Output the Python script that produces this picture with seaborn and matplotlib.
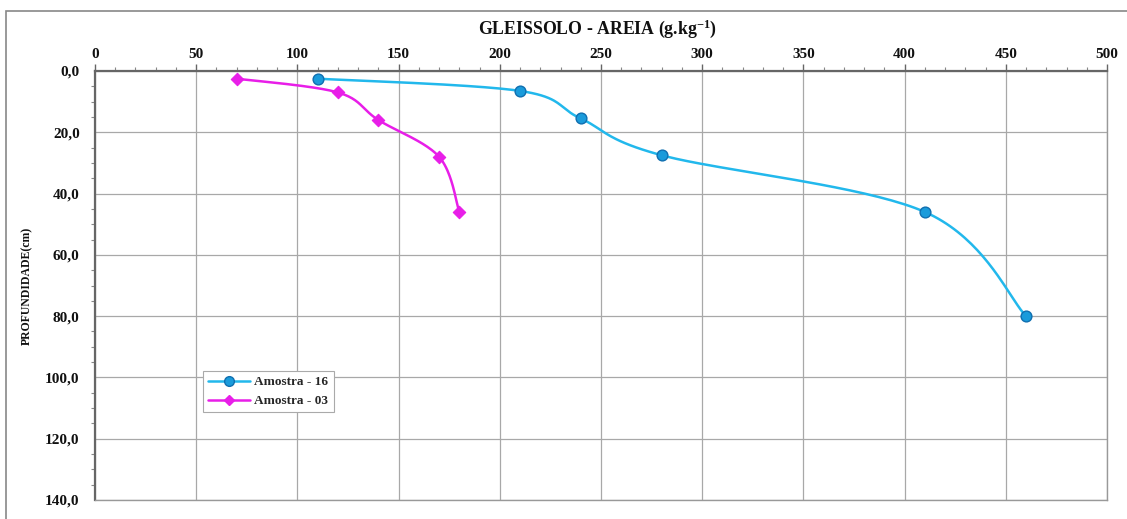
import numpy as np
import pandas as pd
import seaborn as sns
import matplotlib.pyplot as plt
from matplotlib.lines import Line2D
from matplotlib.patches import Rectangle
from matplotlib.ticker import MultipleLocator, FuncFormatter

# Sand content (g/kg) by sampling depth (cm)
depth_16 = [2.5, 6.5, 15.5, 27.5, 46.0, 80.0]
areia_16 = [110, 210, 240, 280, 410, 460]
depth_03 = [2.5, 7.0, 16.0, 28.0, 46.0]
areia_03 = [70, 120, 140, 170, 180]
series_names = ["Amostra - 16", "Amostra - 03"]

x_ticks = list(range(0, 501, 50))
y_ticks = list(range(0, 141, 20))

sns.set_theme(style="white")
plt.rcParams["font.family"] = ["Liberation Serif", "DejaVu Serif"]
plt.rcParams["mathtext.fontset"] = "custom"
plt.rcParams["mathtext.rm"] = "Liberation Serif:bold"
plt.rcParams["mathtext.it"] = "Liberation Serif:bold"
plt.rcParams["mathtext.bf"] = "Liberation Serif:bold"

CYAN = "#22B8EC"
CYAN_MK = "#1A9BDB"
CYAN_EDGE = "#0F6FB0"
MAGENTA = "#E81EE8"


def smooth(xs, ys, n=40):
    """Piecewise cubic Bezier through the points (Catmull-Rom style smoothing)."""
    p = np.column_stack([xs, ys]).astype(float)
    pad = np.vstack([p[0], p, p[-1]])
    t = np.linspace(0, 1, n)[:, None]
    out = []
    for i in range(len(p) - 1):
        p0, p1, p2, p3 = pad[i:i + 4]
        c1 = p1 + (p2 - p0) / 6.0
        c2 = p2 - (p3 - p1) / 6.0
        seg = ((1 - t) ** 3) * p1 + 3 * ((1 - t) ** 2) * t * c1 + 3 * (1 - t) * t ** 2 * c2 + t ** 3 * p2
        out.append(seg if i == 0 else seg[1:])
    arr = np.vstack(out)
    return arr[:, 0], arr[:, 1]


fig = plt.figure(figsize=(11.27, 5.19), dpi=100)
ax = fig.add_axes([95 / 1127, 1 - 500 / 519, (1107 - 95) / 1127, (500 - 71) / 519])

sx16, sy16 = smooth(areia_16, depth_16)
sx03, sy03 = smooth(areia_03, depth_03)
curves = pd.DataFrame({"x": np.r_[sx16, sx03], "y": np.r_[sy16, sy03],
                       "serie": [series_names[0]] * len(sx16) + [series_names[1]] * len(sx03)})
sns.lineplot(data=curves, x="x", y="y", hue="serie", palette=[CYAN, MAGENTA],
             sort=False, estimator=None, lw=1.8, legend=False, ax=ax, zorder=3)
sns.scatterplot(x=areia_16, y=depth_16, marker="o", s=60, color=CYAN_MK,
                edgecolor=CYAN_EDGE, linewidth=1.0, ax=ax, zorder=4, legend=False)
sns.scatterplot(x=areia_03, y=depth_03, marker="D", s=40, color=MAGENTA,
                edgecolor=MAGENTA, linewidth=0.8, ax=ax, zorder=4, legend=False)

ax.set_xlim(0, 500)
ax.set_ylim(140, 0)
ax.set_xticks(x_ticks)
ax.set_yticks(y_ticks)
ax.xaxis.set_minor_locator(MultipleLocator(10))
ax.yaxis.set_minor_locator(MultipleLocator(5))
ax.yaxis.set_major_formatter(FuncFormatter(lambda v, _: f"{v:.1f}".replace(".", ",")))
ax.xaxis.tick_top()
ax.tick_params(axis="x", which="major", direction="out", length=5, width=1, color="#666",
               pad=2.5, labelsize=11)
ax.tick_params(axis="y", which="major", direction="out", length=5, width=1, color="#666",
               pad=6, labelsize=11)
ax.tick_params(which="minor", direction="out", length=3, width=0.8, color="#888",
               top=True, left=True, bottom=False, right=False)
ax.tick_params(which="both", bottom=False, right=False)
for lab in ax.get_xticklabels() + ax.get_yticklabels():
    lab.set_fontweight("bold")
    lab.set_color("#111")

ax.grid(True, which="major", color="#a8a8a8", lw=0.9)
ax.set_axisbelow(True)
for side in ["left", "top"]:
    ax.spines[side].set_color("#666")
    ax.spines[side].set_linewidth(1.6)
for side in ["right", "bottom"]:
    ax.spines[side].set_color("#999")
    ax.spines[side].set_linewidth(1.0)

ax.set_xlabel("")
ax.set_ylabel("PROFUNDIDADE(cm)", fontsize=8.5, fontweight="bold", color="#111", labelpad=9)

fig.text(0.530, 0.945, r"GLEISSOLO - AREIA (g.kg$^{-1}$)", ha="center", va="center",
         fontsize=12.8, fontweight="bold", color="#111")

handles = [Line2D([], [], color=CYAN, lw=1.8, marker="o", markersize=7,
                  markerfacecolor=CYAN_MK, markeredgecolor=CYAN_EDGE),
           Line2D([], [], color=MAGENTA, lw=1.8, marker="D", markersize=5.5,
                  markerfacecolor=MAGENTA, markeredgecolor=MAGENTA)]
leg = ax.legend(handles, series_names, loc="upper left", bbox_to_anchor=(0.1067, 0.301),
                borderaxespad=0, fancybox=False, framealpha=1, edgecolor="#aaa",
                prop={"family": "Liberation Serif", "weight": "bold", "size": 9.5},
                handlelength=3.2, handletextpad=0.3, borderpad=0.4, labelspacing=0.5)
leg.get_frame().set_linewidth(0.8)

fig.add_artist(Rectangle((6 / 1127, -0.1), 1.2, 1.1 - 11 / 519, transform=fig.transFigure,
                         fill=False, edgecolor="#888", lw=1.2))

fig.savefig("out.png", dpi=100)
